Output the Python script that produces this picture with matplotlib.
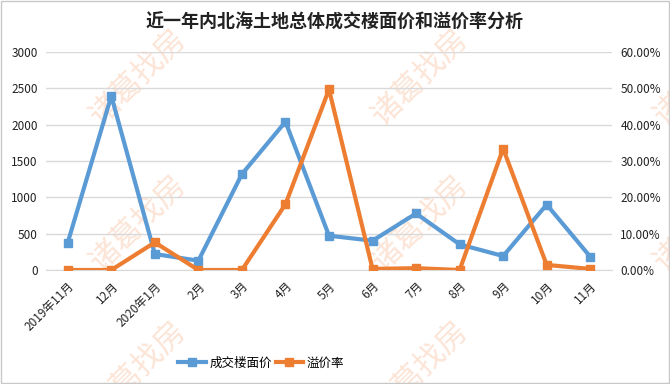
import matplotlib
matplotlib.use("Agg")
import matplotlib.pyplot as plt
from matplotlib.ticker import FuncFormatter, MultipleLocator

plt.rcParams['font.family'] = ['Noto Sans CJK SC', 'DejaVu Sans']

months = ["2019年11月", "12月", "2020年1月", "2月", "3月", "4月", "5月",
          "6月", "7月", "8月", "9月", "10月", "11月"]
floor_price = [378, 2395, 220, 128, 1320, 2040, 472, 403, 778, 353, 192, 900, 183]
premium_rate = [0.0, 0.0, 7.6, 0.0, 0.0, 18.1, 49.7, 0.3, 0.5, 0.0, 33.4, 1.4, 0.3]

BLUE = "#5B9BD5"
ORANGE = "#ED7D31"

fig = plt.figure(figsize=(6.7, 3.84), dpi=100)
ax = fig.add_axes([46 / 670, 1 - 270 / 384, (612 - 46) / 670, (270 - 52) / 384])
ax2 = ax.twinx()
ax.patch.set_alpha(0)
ax2.patch.set_alpha(0)

x = list(range(len(months)))
ax.plot(x, floor_price, color=BLUE, lw=3, marker="s", ms=6, label="成交楼面价", zorder=3)
ax2.plot(x, premium_rate, color=ORANGE, lw=3, marker="s", ms=6, label="溢价率", zorder=3)

ax.set_xlim(-0.5, len(months) - 0.5)
ax.set_ylim(0, 3000)
ax2.set_ylim(0, 60)
ax.yaxis.set_major_locator(MultipleLocator(500))
ax2.yaxis.set_major_locator(MultipleLocator(10))
ax2.yaxis.set_major_formatter(FuncFormatter(lambda v, p: f"{v:.2f}%"))
ax.grid(axis="y", color="#d9d9d9", lw=1)
ax.set_axisbelow(True)

ax.set_xticks(x)
ax.set_xticklabels(months, rotation=45, ha="right", rotation_mode="anchor", fontsize=8.5)
for a in (ax, ax2):
    for s in a.spines.values():
        s.set_visible(False)
    a.tick_params(length=0, labelsize=8.5, colors="#222222")
ax.spines["bottom"].set_visible(True)
ax.spines["bottom"].set_color("#d9d9d9")
ax.tick_params(axis="x", pad=7)
ax.tick_params(axis="y", pad=6)
ax2.tick_params(axis="y", pad=6)

fig.text(0.5, 1 - 22 / 384, "近一年内北海土地总体成交楼面价和溢价率分析",
         ha="center", va="center", fontsize=13, fontweight="bold", color="#222222")

h1, l1 = ax.get_legend_handles_labels()
h2, l2 = ax2.get_legend_handles_labels()
fig.legend(h1 + h2, l1 + l2, loc="center", bbox_to_anchor=(0.39, 1 - 363 / 384),
           ncol=2, frameon=False, fontsize=9, handlelength=2.2, columnspacing=0.3,
           handletextpad=0.3)

# watermark, behind everything
for cx in (138, 420, 702):
    for cy in (77, 223, 369):
        fig.text(cx / 670, 1 - cy / 384, "诸葛找房", rotation=45, ha="center", va="center",
                 fontsize=22, color="#FCE4D6", zorder=-1)

fig.patches.append(plt.Rectangle((0.002, 0.003), 0.996, 0.994, transform=fig.transFigure,
                                 fill=False, edgecolor="#c8c8c8", lw=1))

fig.savefig("out.png", dpi=100)
